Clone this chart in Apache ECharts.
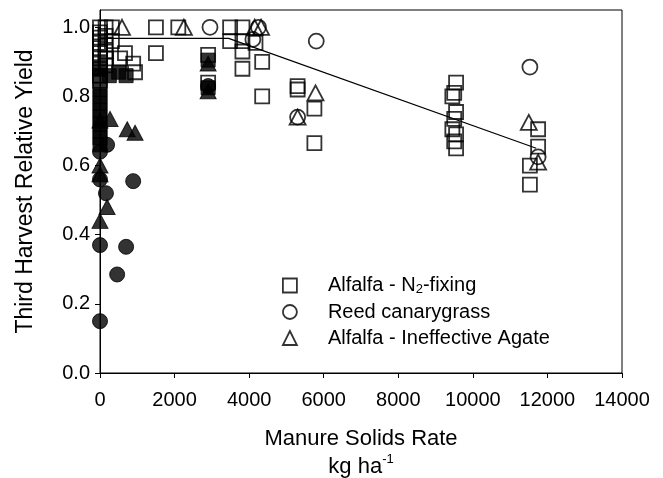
<!DOCTYPE html>
<html>
<head>
<meta charset="utf-8">
<script src="https://cdn.jsdelivr.net/npm/echarts@6/dist/echarts.min.js"></script>
<style>
html,body{margin:0;padding:0;background:#fff;}
#chart{width:663px;height:478px;}
</style>
</head>
<body>
<div id="chart"></div>
<script>
// ---- data ----
var seriesNames = ['Alfalfa - N2-fixing', 'Reed canarygrass', 'Alfalfa - Ineffective Agate'];

// open squares: Alfalfa - N2-fixing
var sqOpenX = [0,0,0,0,0,0,0,0,0,0,0, 150,150,150,150,150,150, 320,320, 540, 670, 890, 940, 1500,1500, 2100, 2900,2900, 3490,3490, 3820,3820,3820,3820, 4170, 4350,4350, 5300,5300, 5750,5750, 9550,9500,9450,9550,9500,9450,9550,9500,9550, 11750,11750,11530,11530];
var sqOpenY = [1.0,0.985,0.97,0.955,0.94,0.925,0.91,0.895,0.88,0.86,0.845, 1.0,0.975,0.95,0.93,0.91,0.89, 1.0,0.96, 0.91, 0.925, 0.895, 0.87, 1.0,0.925, 1.0, 0.92,0.84, 1.0,0.96, 1.0,0.96,0.93,0.88, 0.955, 0.90,0.80, 0.83,0.82, 0.765,0.665, 0.84,0.81,0.80,0.755,0.735,0.705,0.69,0.67,0.65, 0.705,0.655,0.60,0.545];

// open circles: Reed canarygrass
var ciOpenX = [2950, 4250, 4100, 5800, 5300, 11530, 11750];
var ciOpenY = [1.0, 1.0, 0.965, 0.96, 0.74, 0.885, 0.625];

// open triangles: Alfalfa - Ineffective Agate
var trOpenX = [590, 2250, 4150, 4320, 5780, 5300, 11500, 11750];
var trOpenY = [1.0, 1.0, 1.0, 1.0, 0.81, 0.74, 0.725, 0.61];

// filled symbols (not in legend)
var sqFillX = [0,0,250,500,700,0,0,0,0,0,0,0,0,0,2900,2900];
var sqFillY = [0.88,0.86,0.86,0.87,0.86,0.82,0.80,0.78,0.76,0.74,0.72,0.70,0.68,0.66,0.905,0.825];
var ciFillX = [190, 0, 890, 160, 0, 700, 460, 0, 2900, 0];
var ciFillY = [0.66, 0.64, 0.555, 0.52, 0.37, 0.365, 0.285, 0.15, 0.83, 0.56];
var trFillX = [0, 270, 730, 940, 0, 0, 190, 0, 2900, 2900];
var trFillY = [0.73, 0.735, 0.705, 0.695, 0.60, 0.575, 0.48, 0.44, 0.895, 0.815];

// fitted plateau-linear line
var fitX = [0, 3450, 11700];
var fitY = [0.968, 0.968, 0.65];

// axes
var xTicks = [0, 2000, 4000, 6000, 8000, 10000, 12000, 14000];
var yTicks = [0.0, 0.2, 0.4, 0.6, 0.8, 1.0];

function zip(xs, ys){ return xs.map(function(x,i){ return [x, ys[i]]; }); }

var chart = echarts.init(document.getElementById('chart'), null, {renderer:'canvas'});
var FONT = 'Liberation Sans, Arial, sans-serif';
var openStyle = {color:'rgba(0,0,0,0)', borderColor:'#000', borderWidth:1.8};
var fillStyle = {color:'#000', borderColor:'#000', borderWidth:1};

chart.setOption({
  animation:false,
  backgroundColor:'#fff',
  grid:{left:100, right:41, top:10, bottom:105, show:true, borderColor:'#000', borderWidth:1,
        containLabel:false, outerBoundsMode:'none'},
  legend:{
    orient:'vertical', left:282, top:272, padding:0, itemGap:6,
    itemWidth:14, itemHeight:14,
    data:[
      {name:seriesNames[0], icon:'rect', itemStyle:openStyle},
      {name:seriesNames[1], icon:'circle', itemStyle:openStyle},
      {name:seriesNames[2], icon:'triangle', itemStyle:openStyle}
    ],
    formatter:function(name){
      if(name === seriesNames[0]) return '{g|}{a|Alfalfa - N}{s|2}{a|-fixing}';
      return '{g|}{a|' + name + '}';
    },
    textStyle:{
      rich:{
        g:{width:26},
        a:{fontFamily:FONT, fontSize:20, color:'#000', lineHeight:21},
        s:{fontFamily:FONT, fontSize:13, color:'#000', lineHeight:21, verticalAlign:'bottom', padding:[11,0,0,0]}
      }
    }
  },
  xAxis:{
    type:'value', min:xTicks[0], max:xTicks[xTicks.length-1], interval:2000,
    axisLine:{lineStyle:{color:'#000', width:1}},
    axisTick:{show:true, inside:false, length:5, lineStyle:{color:'#000'}},
    splitLine:{show:false},
    axisLabel:{color:'#000', fontFamily:FONT, fontSize:20, margin:17,
      formatter:function(v){ return String(Math.round(v)); }},
    name:'{t|Manure Solids Rate}\n{t|kg ha}{p|-1}',
    nameLocation:'middle', nameGap:52,
    nameTextStyle:{
      rich:{
        t:{fontFamily:FONT, fontSize:22, color:'#000', lineHeight:28},
        p:{fontFamily:FONT, fontSize:13, color:'#000', lineHeight:28, verticalAlign:'top', padding:[0,0,12,0]}
      }
    }
  },
  yAxis:{
    type:'value', min:0, max:1.05, interval:0.2,
    axisLine:{lineStyle:{color:'#000', width:1}},
    axisTick:{show:true, inside:false, length:5, lineStyle:{color:'#000'}},
    splitLine:{show:false},
    axisLabel:{color:'#000', fontFamily:FONT, fontSize:20, margin:10, showMaxLabel:false,
      formatter:function(v){
        for (var i=0;i<yTicks.length;i++){ if (Math.abs(v-yTicks[i])<1e-6) return yTicks[i].toFixed(1); }
        return '';
      }},
    name:'Third Harvest Relative Yield', nameLocation:'middle', nameGap:63,
    nameTextStyle:{fontFamily:FONT, fontSize:23, color:'#000'}
  },
  series:[
    {name:seriesNames[0], type:'scatter', symbol:'rect', symbolSize:14, data:zip(sqOpenX, sqOpenY), itemStyle:openStyle, z:3},
    {name:seriesNames[1], type:'scatter', symbol:'circle', symbolSize:15, data:zip(ciOpenX, ciOpenY), itemStyle:openStyle, z:3},
    {name:seriesNames[2], type:'scatter', symbol:'triangle', symbolSize:[16,15], data:zip(trOpenX, trOpenY), itemStyle:openStyle, z:3},
    {name:'filled squares', type:'scatter', symbol:'rect', symbolSize:14, data:zip(sqFillX, sqFillY), itemStyle:fillStyle, z:4},
    {name:'filled circles', type:'scatter', symbol:'circle', symbolSize:15, data:zip(ciFillX, ciFillY), itemStyle:fillStyle, z:4},
    {name:'filled triangles', type:'scatter', symbol:'triangle', symbolSize:[16,15], data:zip(trFillX, trFillY), itemStyle:fillStyle, z:4},
    {name:'fit', type:'line', data:zip(fitX, fitY), showSymbol:false, symbol:'none',
      lineStyle:{color:'#000', width:1.2}, z:2, silent:true}
  ]
});
</script>
</body>
</html>
